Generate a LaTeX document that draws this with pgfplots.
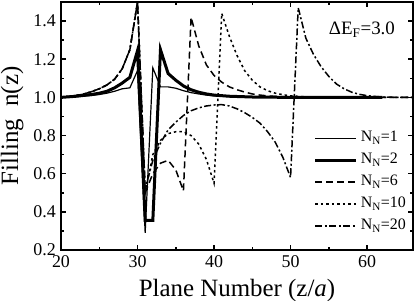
\documentclass[border=0pt]{standalone}
\usepackage{fontspec}
\setmainfont{Liberation Serif}
\usepackage{pgfplots}
\pgfplotsset{compat=1.18}
\begin{document}
\begin{tikzpicture}
\begin{axis}[
 name=ax,
 scale only axis, width=352bp, height=248bp,
 xmin=20, xmax=66, ymin=0.2, ymax=1.5,
 xtick={20,30,40,50,60}, ytick={0.2,0.4,0.6,0.8,1.0,1.2,1.4},
 minor x tick num=1, minor y tick num=1,
 tick align=inside, xtick pos=both, ytick pos=both,
 xticklabel pos=lower, yticklabel pos=left,
 major tick length=5bp, minor tick length=3bp,
 every tick/.style={black, line width=1.5bp},
 axis line style={line width=2.5bp},
 /pgf/number format/assume math mode=true,
 tick label style={font=\fontsize{18}{20}\selectfont},
 xticklabel style={anchor=north, inner sep=0pt, yshift=-5bp},
 yticklabel style={anchor=east, inner sep=0pt, xshift=-5bp, /pgf/number format/fixed, /pgf/number format/fixed zerofill, /pgf/number format/precision=1},
 xlabel={Plane Number (z/\textit{a})},
 ylabel={Filling\ \ n(z)},
 label style={font=\fontsize{25}{28}\selectfont},
 xlabel style={at={(axis description cs:0.5,-0.1855)}, anchor=base, inner sep=0pt},
 ylabel style={at={(axis description cs:-0.122,0.5)}, anchor=base, inner sep=0pt},
 legend style={draw=none, fill=none, at={(axis description cs:0.9886,0.494)}, anchor=north east, font=\fontsize{16}{18}\selectfont, row sep=1bp, inner sep=0pt, nodes={inner sep=3bp, text height=11bp, text depth=4bp}},
 legend cell align=left,
 legend image code/.code={\draw[#1] (0bp,0bp) -- (41bp,0bp);},
]
\addplot[black, line width=1.2bp] coordinates {(20,1.0) (22,1.004) (24,1.01) (25,1.015) (26,1.022) (27,1.032) (28,1.045) (29,1.05) (30,1.14) (31,0.29) (32,1.155) (33,1.055) (34,1.055) (35,1.048) (36,1.035) (37,1.025) (38,1.018) (39,1.012) (40,1.008) (42,1.004) (45,1.001) (50,1.0) (62,1.0)};
\addlegendentry{N\textsubscript{N}=1}
\addplot[black, line width=3bp] coordinates {(20,1.0) (22,1.006) (24,1.015) (25,1.022) (26,1.032) (27,1.05) (28,1.075) (29,1.105) (30,1.245) (31,0.355) (32,0.355) (33,1.25) (34,1.125) (35,1.09) (36,1.06) (37,1.04) (38,1.027) (39,1.018) (40,1.012) (42,1.006) (45,1.002) (50,1.0) (62,1.0)};
\addlegendentry{N\textsubscript{N}=2}
\addplot[black, line width=1.5bp, dash pattern=on 7bp off 4bp] coordinates {(20,1.0) (21,1.005) (22,1.01) (23,1.018) (24,1.03) (25,1.045) (26,1.065) (27,1.095) (28,1.15) (29,1.25) (30,1.5) (31,0.5) (32,0.6) (33,0.655) (34,0.67) (35,0.62) (36,0.51) (37,1.42) (38,1.27) (39,1.17) (40,1.115) (41,1.08) (42,1.055) (43,1.04) (44,1.028) (45,1.018) (46,1.012) (47,1.008) (48,1.005) (50,1.002) (55,1.0) (66,1.0)};
\addlegendentry{N\textsubscript{N}=6}
\addplot[black, line width=1.5bp, dash pattern=on 2.5bp off 3bp] coordinates {(20,1.0) (21,1.005) (22,1.01) (23,1.018) (24,1.03) (25,1.045) (26,1.065) (27,1.095) (28,1.15) (29,1.25) (30,1.5) (31,0.5) (32,0.7) (33,0.775) (34,0.81) (35,0.82) (36,0.82) (37,0.8) (38,0.755) (39,0.675) (40,0.55) (41,1.44) (42,1.32) (43,1.22) (44,1.14) (45,1.09) (46,1.055) (47,1.035) (48,1.022) (49,1.014) (50,1.008) (52,1.003) (55,1.0) (66,1.0)};
\addlegendentry{N\textsubscript{N}=10}
\addplot[black, line width=1.5bp, dash pattern=on 7bp off 2.5bp on 2bp off 2.5bp] coordinates {(20,1.0) (21,1.005) (22,1.01) (23,1.018) (24,1.03) (25,1.045) (26,1.065) (27,1.095) (28,1.15) (29,1.25) (30,1.5) (31,0.52) (32,0.67) (33,0.76) (34,0.83) (35,0.87) (36,0.905) (37,0.93) (38,0.945) (39,0.955) (40,0.96) (41,0.962) (42,0.955) (43,0.94) (44,0.92) (45,0.895) (46,0.865) (47,0.82) (48,0.765) (49,0.685) (50,0.58) (51,1.47) (52,1.31) (53,1.225) (54,1.16) (55,1.11) (56,1.07) (57,1.045) (58,1.027) (59,1.016) (60,1.009) (61,1.005) (62,1.002) (64,1.0) (66,1.0)};
\addlegendentry{N\textsubscript{N}=20}
\node[anchor=base, font=\fontsize{19}{21}\selectfont, inner sep=0pt] at (axis description cs:0.855,0.867) {ΔE\textsubscript{F}=3.0};
\end{axis}
\pgfresetboundingbox
\path ([shift={(-61bp,-51bp)}]ax.south west) rectangle ([shift={(2bp,2bp)}]ax.north east);
\end{tikzpicture}
\end{document}
